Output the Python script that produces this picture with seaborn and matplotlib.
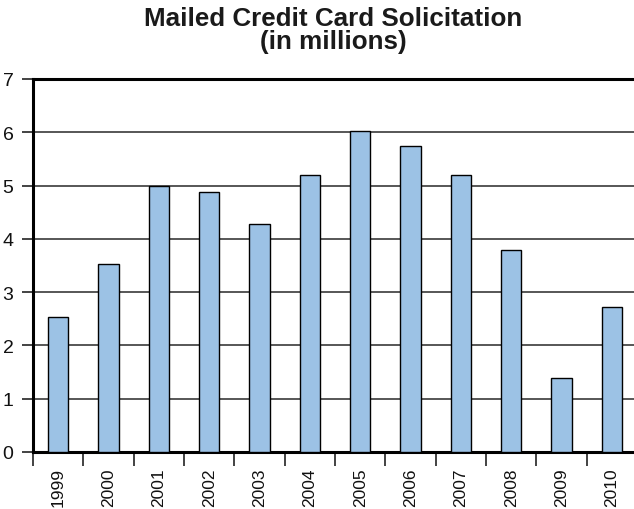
import matplotlib
matplotlib.use("Agg")
import matplotlib.pyplot as plt
import seaborn as sns
import pandas as pd
import numpy as np
from matplotlib.ticker import FixedLocator

years = ["1999", "2000", "2001", "2002", "2003", "2004",
         "2005", "2006", "2007", "2008", "2009", "2010"]
solicitations = [2.53, 3.53, 5.0, 4.88, 4.28, 5.2,
                 6.03, 5.74, 5.2, 3.8, 1.38, 2.73]
y_ticks = [0, 1, 2, 3, 4, 5, 6, 7]
title = "Mailed Credit Card Solicitation\n(in millions)"

df = pd.DataFrame({"year": years, "value": solicitations})

sns.set_style("white")
plt.rcParams["font.family"] = ["Liberation Sans", "DejaVu Sans"]

fig = plt.figure(figsize=(6.34, 5.10), dpi=100)
ax = fig.add_axes([33 / 634, 57 / 510, 604 / 634, 373 / 510])

sns.barplot(data=df, x="year", y="value", order=years, color="#9cc2e5",
            width=0.4, edgecolor="black", linewidth=1.0, saturation=1,
            ax=ax, zorder=3)

ax.set_xlim(-0.5, len(years) - 0.5)
ax.set_ylim(0, 7)
ax.set_yticks(y_ticks)
ax.set_xlabel("")
ax.set_ylabel("")

# horizontal gridlines
ax.yaxis.grid(True, color="#3a3a3a", linewidth=1.2, zorder=0)
ax.set_axisbelow(True)

# category labels without ticks, tick marks at category boundaries
ax.tick_params(axis="x", which="major", length=0, pad=11,
               labelsize=12.5, rotation=90, labelcolor="#111111")
ax.xaxis.set_minor_locator(FixedLocator(np.arange(-0.5, len(years), 1.0)))
ax.tick_params(axis="x", which="minor", length=10, width=1.2,
               color="#222222", direction="out")
ax.tick_params(axis="y", length=8, width=1.2, color="#222222",
               direction="out", labelsize=14, pad=6, labelcolor="#111111")
ax.tick_params(bottom=True, left=True, which="both")

for side in ("left", "bottom", "top"):
    ax.spines[side].set_visible(True)
    ax.spines[side].set_color("black")
    ax.spines[side].set_linewidth(2.2)
ax.spines["right"].set_visible(False)

fig.text(333 / 634, 1 - 7 / 510, title, ha="center", va="top",
         fontsize=18.7, fontweight="bold", color="#1a1a1a",
         linespacing=0.95)

fig.savefig("out.png", dpi=100)
